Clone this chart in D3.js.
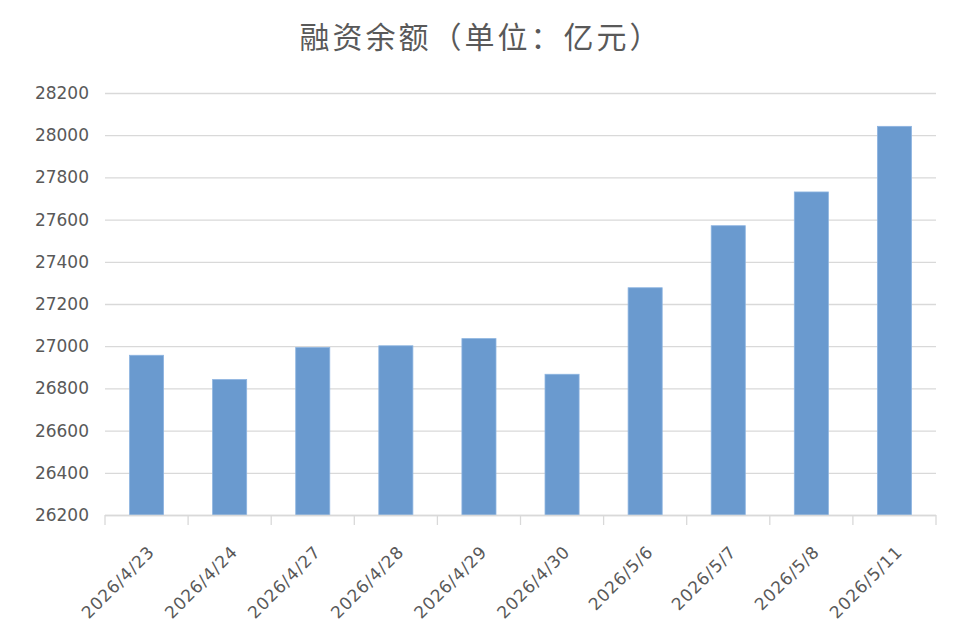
<!DOCTYPE html>
<html>
<head>
<meta charset="utf-8">
<script src="https://cdn.jsdelivr.net/npm/d3@7.9.0/dist/d3.min.js"></script>
<style>
  body { margin: 0; background: #fff; }
  svg { display: block; }
</style>
</head>
<body>
<div id="chart"></div>
<script>
const title = '融资余额（单位：亿元）';
const dates = ['2026/4/23', '2026/4/24', '2026/4/27', '2026/4/28', '2026/4/29',
  '2026/4/30', '2026/5/6', '2026/5/7', '2026/5/8', '2026/5/11'];
const balances = [26957, 26842, 26994, 27002, 27036, 26867, 27277, 27571, 27731, 28042];
const yTicks = [26200, 26400, 26600, 26800, 27000, 27200, 27400, 27600, 27800, 28000, 28200];

const width = 962;
const height = 628;
const area = { left: 105, right: 936, top: 93, bottom: 515 };

const data = dates.map((d, i) => ({ date: d, value: balances[i] }));

const svg = d3.select('#chart')
  .append('svg')
  .attr('width', width)
  .attr('height', height);

const x = d3.scaleBand()
  .domain(dates)
  .range([area.left, area.right])
  .paddingInner(0.59)
  .paddingOuter(0.295);

const y = d3.scaleLinear()
  .domain([26200, 28200])
  .range([area.bottom, area.top]);

// title
svg.append('text')
  .attr('x', 481)
  .attr('y', 48)
  .attr('text-anchor', 'middle')
  .attr('fill', '#595959')
  .style('font-family', '"Noto Sans CJK SC", sans-serif')
  .style('font-size', '30px')
  .style('letter-spacing', '3px')
  .text(title);

// gridlines
svg.append('g')
  .attr('class', 'grid')
  .attr('transform', `translate(${area.left},0)`)
  .call(d3.axisLeft(y).tickValues(yTicks).tickFormat('').tickSize(-(area.right - area.left)))
  .call((g) => g.select('.domain').remove())
  .call((g) => g.selectAll('line').attr('stroke', '#d9d9d9').attr('stroke-width', 1.3));

// y labels
svg.append('g')
  .attr('transform', `translate(${area.left},0)`)
  .call(d3.axisLeft(y).tickValues(yTicks).tickSize(0).tickPadding(16).tickFormat(d3.format('d')))
  .call((g) => g.select('.domain').remove())
  .call((g) => g.selectAll('text')
    .attr('fill', '#595959')
    .style('font-family', '"DejaVu Sans", sans-serif')
    .style('font-size', '17px'));

// bars
svg.append('g')
  .selectAll('rect')
  .data(data)
  .join('rect')
  .attr('x', (d) => x(d.date))
  .attr('y', (d) => y(d.value))
  .attr('width', x.bandwidth())
  .attr('height', (d) => y(26200) - y(d.value))
  .attr('fill', '#6a9acf')
  .attr('stroke', '#8db4e0')
  .attr('stroke-width', 0.8);

// x axis line with ticks at band boundaries
const boundaries = dates.map((d, i) => area.left + i * x.step());
boundaries.push(area.right);

const xAxis = svg.append('g').attr('class', 'x-axis');
xAxis.append('line')
  .attr('x1', area.left).attr('x2', area.right)
  .attr('y1', area.bottom + 0.5).attr('y2', area.bottom + 0.5)
  .attr('stroke', '#d9d9d9').attr('stroke-width', 1.3);
xAxis.selectAll('line.tick')
  .data(boundaries)
  .join('line')
  .attr('class', 'tick')
  .attr('x1', (d) => d).attr('x2', (d) => d)
  .attr('y1', area.bottom).attr('y2', area.bottom + 10)
  .attr('stroke', '#d9d9d9').attr('stroke-width', 1.3);

xAxis.selectAll('text')
  .data(dates)
  .join('text')
  .attr('transform', (d) => `translate(${x(d) + x.bandwidth() / 2 + 9},${area.bottom + 38}) rotate(-45)`)
  .attr('text-anchor', 'end')
  .attr('fill', '#595959')
  .style('font-family', '"DejaVu Sans", sans-serif')
  .style('font-size', '17px')
  .style('letter-spacing', '0.8px')
  .text((d) => d);
</script>
</body>
</html>
